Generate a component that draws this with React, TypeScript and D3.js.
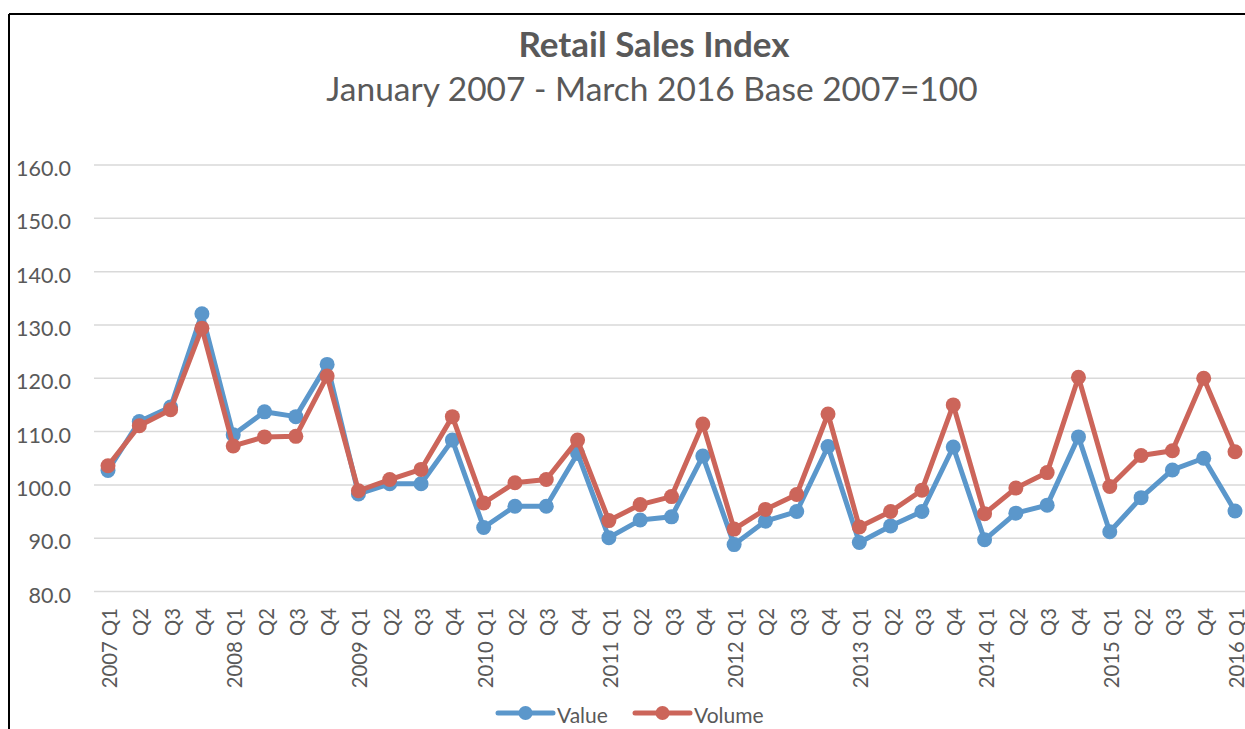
import React from "react";
import * as d3 from "d3";

const quarters: string[] = [
  "2007 Q1","Q2","Q3","Q4",
  "2008 Q1","Q2","Q3","Q4",
  "2009 Q1","Q2","Q3","Q4",
  "2010 Q1","Q2","Q3","Q4",
  "2011 Q1","Q2","Q3","Q4",
  "2012 Q1","Q2","Q3","Q4",
  "2013 Q1","Q2","Q3","Q4",
  "2014 Q1","Q2","Q3","Q4",
  "2015 Q1","Q2","Q3","Q4",
  "2016 Q1",
];

const valueSeries: number[] = [
  102.7, 111.9, 114.6, 132.1,
  109.4, 113.7, 112.8, 122.6,
  98.3, 100.2, 100.2, 108.4,
  92.0, 96.0, 96.0, 105.9,
  90.1, 93.4, 94.0, 105.4,
  88.8, 93.2, 95.0, 107.2,
  89.2, 92.3, 95.0, 107.1,
  89.7, 94.7, 96.2, 109.0,
  91.2, 97.6, 102.8, 105.0,
  95.1,
];

const volumeSeries: number[] = [
  103.6, 111.1, 114.1, 129.4,
  107.3, 109.0, 109.1, 120.4,
  98.9, 101.0, 102.9, 112.8,
  96.6, 100.4, 101.0, 108.4,
  93.3, 96.3, 97.8, 111.4,
  91.7, 95.4, 98.2, 113.3,
  92.1, 95.0, 99.0, 115.0,
  94.6, 99.4, 102.3, 120.2,
  99.7, 105.5, 106.4, 120.0,
  106.2,
];

const yTicks: number[] = [80, 90, 100, 110, 120, 130, 140, 150, 160];

const seriesNames = ["Value", "Volume"];
const seriesColors = ["#5b97cb", "#cc655a"];

const W = 1245;
const H = 729;
const FONT = "Lato, 'Open Sans', sans-serif";
const GREY = "#595959";

export default function App() {
  const x = d3.scalePoint<string>().domain(quarters.map((_, i) => String(i))).range([108, 1235]);
  const y = d3.scaleLinear().domain([80, 160]).range([591.5, 165]);
  const line = d3
    .line<number>()
    .x((_, i) => x(String(i)) as number)
    .y((d) => y(d));
  const data = [valueSeries, volumeSeries];

  return (
    <div style={{ position: "absolute", left: 0, top: 0 }}>
      <svg width={W} height={H} style={{ display: "block", background: "#fff" }}>
        <rect x={0} y={0} width={W} height={H} fill="#fff" />
        {/* frame */}
        <line x1={9} y1={14} x2={W} y2={14} stroke="#000" strokeWidth={2} />
        <line x1={9} y1={14} x2={9} y2={H} stroke="#000" strokeWidth={2} />

        {/* title */}
        <text x={654} y={57} textAnchor="middle" fontFamily={FONT} fontWeight="bold" fontSize={35} fill={GREY}>
          Retail Sales Index
        </text>
        <text x={652} y={101} textAnchor="middle" fontFamily={FONT} fontSize={33.5} fill={GREY}>
          January 2007 - March 2016 Base 2007=100
        </text>

        {/* gridlines */}
        {yTicks.map((t) => (
          <g key={t}>
            <line x1={94} x2={W} y1={y(t)} y2={y(t)} stroke="#d9d9d9" strokeWidth={1.5} />
            <text
              x={71}
              y={y(t) + 3}
              textAnchor="end"
              dominantBaseline="central"
              fontFamily={FONT}
              fontSize={21.5}
              fill={GREY}
            >
              {t.toFixed(1)}
            </text>
          </g>
        ))}

        {/* x labels */}
        {quarters.map((q, i) => {
          const px = x(String(i)) as number;
          return (
            <text
              key={i}
              transform={`translate(${px + 1},608) rotate(-90)`}
              textAnchor="end"
              dominantBaseline="central"
              fontFamily={FONT}
              fontSize={20.3}
              fill={GREY}
            >
              {q}
            </text>
          );
        })}

        {/* series */}
        {data.map((s, si) => (
          <g key={si}>
            <path d={line(s) || ""} fill="none" stroke={seriesColors[si]} strokeWidth={5} strokeLinejoin="round" />
            {s.map((v, i) => (
              <circle key={i} cx={x(String(i)) as number} cy={y(v)} r={7.5} fill={seriesColors[si]} />
            ))}
          </g>
        ))}

        {/* legend */}
        {seriesNames.map((n, i) => {
          const lx = i === 0 ? 498 : 635;
          const ly = 713;
          return (
            <g key={n}>
              <line x1={lx} x2={lx + 55} y1={ly} y2={ly} stroke={seriesColors[i]} strokeWidth={5} strokeLinecap="round" />
              <circle cx={lx + 27.5} cy={ly} r={7} fill={seriesColors[i]} />
              <text x={lx + 59} y={ly + 1} dominantBaseline="central" fontFamily={FONT} fontSize={21} fill={GREY}>
                {n}
              </text>
            </g>
          );
        })}
      </svg>
    </div>
  );
}
